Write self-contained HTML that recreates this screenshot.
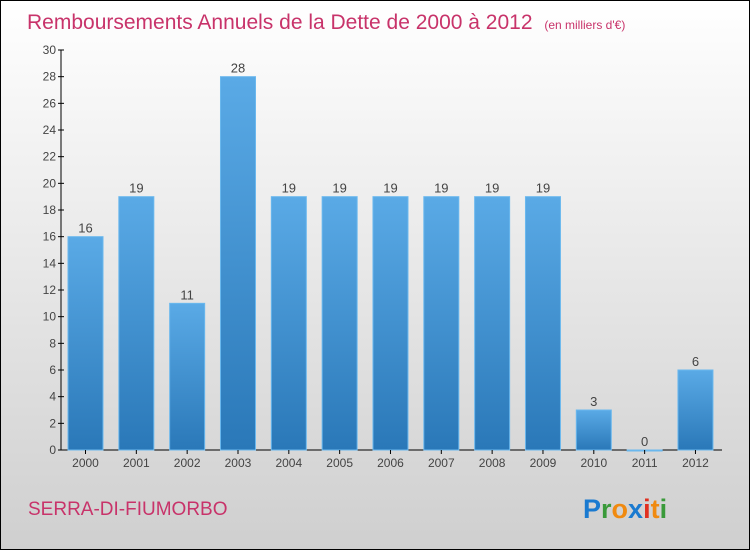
<!DOCTYPE html>
<html><head><meta charset="utf-8"><style>
body{margin:0;width:750px;height:550px;overflow:hidden;}
#wrap{position:relative;width:748px;height:548px;border:1px solid #000;background:linear-gradient(#ffffff,#cfcfcf);font-family:"Liberation Sans",sans-serif;}
svg{position:absolute;left:0;top:0;}
</style></head><body>
<div id="wrap">
<svg id="chart" width="748" height="548">
<defs><linearGradient id="bg" x1="0" y1="0" x2="0" y2="1"><stop offset="0" stop-color="#5aaae6"/><stop offset="1" stop-color="#2a78b8"/></linearGradient></defs>
<text x="26" y="28" font-size="21" fill="#c8336a">Remboursements Annuels de la Dette de 2000 à 2012 <tspan font-size="12" dx="6">(en milliers d'€)</tspan></text>
<text x="27" y="514" font-size="19" fill="#c8336a">SERRA-DI-FIUMORBO</text>
<text x="582" y="517" font-size="27" font-weight="bold"><tspan fill="#1a7ad0">P</tspan><tspan fill="#3a9a3a">r</tspan><tspan fill="#f08a10">o</tspan><tspan fill="#1a7ad0">x</tspan><tspan fill="#e03020">i</tspan><tspan fill="#f08a10">t</tspan><tspan fill="#3a9a3a">i</tspan></text>
<g id="g"></g>
</svg>
</div>
<script>
const years=["2000","2001","2002","2003","2004","2005","2006","2007","2008","2009","2010","2011","2012"];
const values=[16,19,11,28,19,19,19,19,19,19,3,0,6];
const yTicks=[0,2,4,6,8,10,12,14,16,18,20,22,24,26,28,30];
const NS="http://www.w3.org/2000/svg";
const g=document.getElementById('g');
const y0=449,yTop=49,yMax=30;
function yS(v){return y0-(v/yMax)*(y0-yTop);}
function xS(i){return 84.5+i*50.83;}
function mk(t,a,txt){const e=document.createElementNS(NS,t);for(const k in a)e.setAttribute(k,a[k]);if(txt!==undefined)e.textContent=txt;g.appendChild(e);return e;}
let ax=mk('line',{x1:60,y1:yTop,x2:60,y2:y0,stroke:'#000'});


let xa=mk('line',{x1:60,y1:y0,x2:721,y2:y0,stroke:'#000'});


yTicks.forEach(v=>{
 const y=yS(v);
 mk('line',{x1:57,y1:y,x2:63,y2:y,stroke:'#000'});
 const t=mk('text',{x:55,y:y+4,'font-size':12,'text-anchor':'end',fill:'#444'},v);
 
 
});
years.forEach((yr,i)=>{
 const cx=xS(i),v=values[i],top=yS(v);
 const b=mk('rect',{x:cx-17.5,y:top,width:35,height:Math.max(y0-top,1),fill:'url(#bg)',stroke:'#6ab8ee','stroke-width':1});
 
 
 mk('line',{x1:cx,y1:y0,x2:cx,y2:y0+4,stroke:'#000'});
 const l=mk('text',{x:cx,y:top-4,'font-size':13,'text-anchor':'middle',fill:'#444'},v);
 
 
 const xl=mk('text',{x:cx,y:466,'font-size':12,'text-anchor':'middle',fill:'#444'},yr);
 
 
});
</script>
</body></html>
